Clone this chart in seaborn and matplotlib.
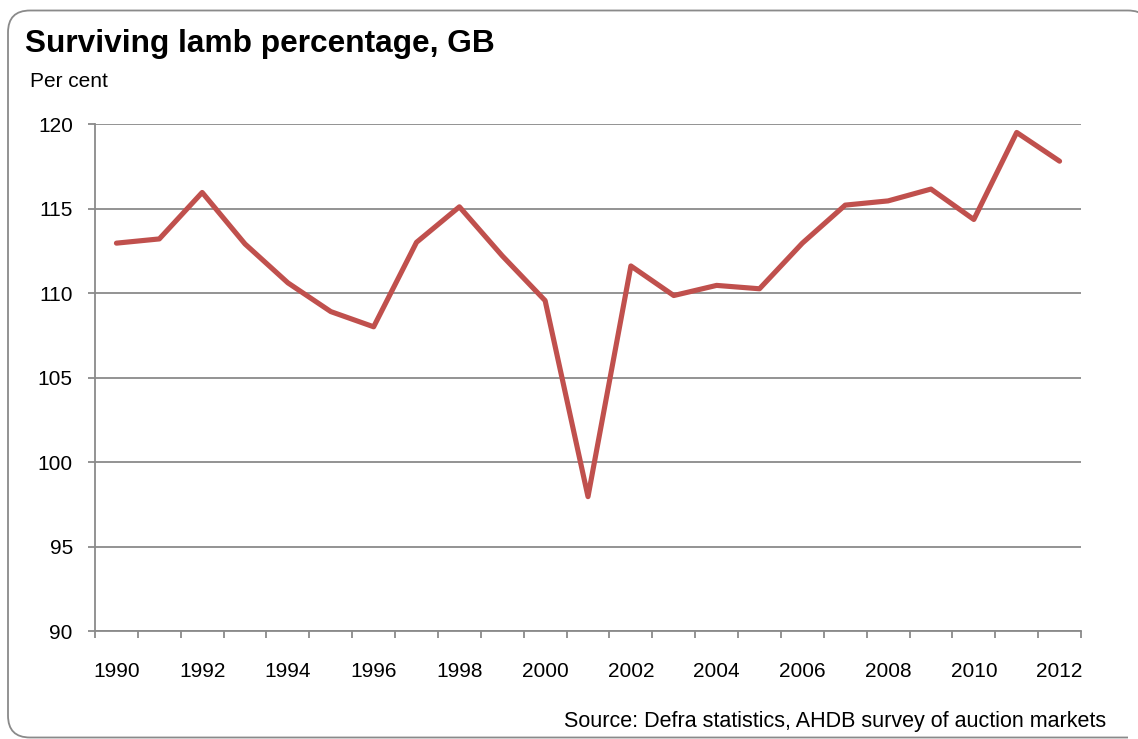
import matplotlib
matplotlib.use("Agg")
import matplotlib.pyplot as plt
from matplotlib.patches import PathPatch
from matplotlib.path import Path
from matplotlib.transforms import IdentityTransform
from matplotlib.ticker import FixedLocator, NullFormatter
import seaborn as sns
import pandas as pd

years = list(range(1990, 2013))
surviving_pct = [112.95, 113.2, 115.95, 112.9, 110.6, 108.9, 108.0, 113.0, 115.1, 112.2,
                 109.55, 97.95, 111.6, 109.85, 110.45, 110.25, 112.95, 115.2, 115.45, 116.15,
                 114.35, 119.5, 117.8]
tick_years = list(range(1990, 2013, 2))
y_ticks = [90, 95, 100, 105, 110, 115, 120]

title = "Surviving lamb percentage, GB"
unit_label = "Per cent"
source = "Source: Defra statistics, AHDB survey of auction markets"

sns.set_theme(style="white")
plt.rcParams['font.family'] = ['Liberation Sans', 'DejaVu Sans']

W, H = 1138, 739
fig = plt.figure(figsize=(W / 100, H / 100), dpi=100)
fig.patch.set_facecolor("white")

# rounded outer frame drawn in pixel coordinates (y measured from the top, converted)
r = 22
x0, x1, yt, yb = 8, 1150, 10.5, 737.5
def P(x, y):
    return (x, H - y)
verts = [P(x1, yt + r), P(x1, yt), P(x1 - r, yt),
         P(x0 + r, yt), P(x0, yt), P(x0, yt + r),
         P(x0, yb - r), P(x0, yb), P(x0 + r, yb),
         P(x1 - r, yb)]
codes = [Path.MOVETO, Path.CURVE3, Path.CURVE3,
         Path.LINETO, Path.CURVE3, Path.CURVE3,
         Path.LINETO, Path.CURVE3, Path.CURVE3,
         Path.LINETO]
frame = PathPatch(Path(verts, codes), transform=IdentityTransform(), facecolor="none",
                  edgecolor="#8a8a8a", linewidth=1.3)
fig.add_artist(frame)

left, right, top, bottom = 95 / W, 1081 / W, 124 / H, 631 / H
ax = fig.add_axes([left, 1 - bottom, right - left, bottom - top])

df = pd.DataFrame({"year": years, "pct": surviving_pct})
sns.lineplot(data=df, x="year", y="pct", ax=ax, color="#C0504D", linewidth=3.7,
             solid_joinstyle="round", solid_capstyle="round")

ax.set_xlim(1989.5, 2012.5)
ax.set_ylim(90, 120)
ax.set_yticks(y_ticks)
ax.set_yticklabels([str(v) for v in y_ticks])
ax.xaxis.set_major_locator(FixedLocator(tick_years))
ax.set_xticklabels([str(y) for y in tick_years])
ax.xaxis.set_minor_locator(FixedLocator([y - 0.5 for y in range(1990, 2014)]))
ax.xaxis.set_minor_formatter(NullFormatter())
ax.set_xlabel("")
ax.set_ylabel("")

for s in ["top", "right"]:
    ax.spines[s].set_visible(False)
for s in ["left", "bottom"]:
    ax.spines[s].set_color("#8a8a8a")
    ax.spines[s].set_linewidth(1.3)

ax.grid(axis="y", color="#8a8a8a", linewidth=1.3)
ax.grid(axis="x", visible=False)
ax.set_axisbelow(True)

ax.tick_params(axis="x", which="major", length=0, pad=22, labelsize=15, labelcolor="black")
ax.tick_params(axis="x", which="minor", length=5, width=1.3, color="#8a8a8a", direction="out", bottom=True)
ax.tick_params(axis="y", which="major", length=5, width=1.3, color="#8a8a8a", direction="out",
               pad=11, labelsize=15, labelcolor="black", left=True)

fig.text(25 / W, 1 - 52 / H, title, fontsize=22.8, fontweight="bold", color="black",
         ha="left", va="baseline")
fig.text(30 / W, 1 - 87 / H, unit_label, fontsize=15, color="black", ha="left", va="baseline")
fig.text(1106 / W, 1 - 727 / H, source, fontsize=15.5, color="black", ha="right", va="baseline")

fig.savefig("out.png", dpi=100, facecolor="white")
